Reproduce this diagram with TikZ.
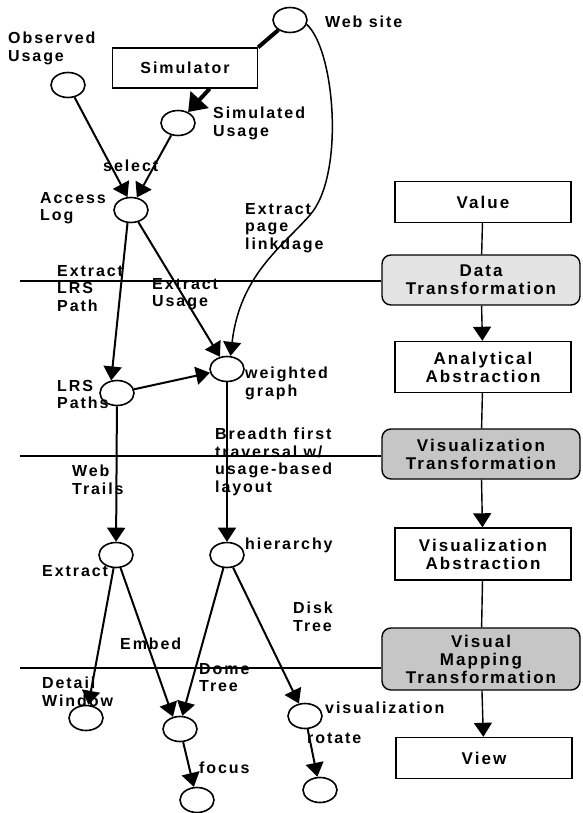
\documentclass[tikz,border=0pt]{standalone}
\usepackage{fontspec}
\setmainfont{Liberation Sans}[LetterSpace=12]
\usetikzlibrary{shapes,arrows.meta,calc}

\begin{document}
\begin{tikzpicture}[%
    x=1pt, y=-1pt,                              % work in page pixels, top-down
    >={Triangle[length=14pt,width=18pt]},       % big filled heads
    font=\fontsize{16}{17.5}\selectfont\bfseries,
    every node/.style={inner sep=0pt}]
% -------------------------------------------------
% Styles
\tikzset{
  state/.style={draw, ellipse, line width=1.6pt, minimum width=34pt, minimum height=25pt},
  note/.style={align=left, anchor=north west},
  stage/.style={draw, line width=1.4pt, minimum width=176pt, minimum height=41pt, align=center,
    font=\fontsize{17}{18}\selectfont\bfseries},
  xform/.style={stage, rounded corners=9pt, minimum width=198pt, minimum height=50pt},
  flow/.style={->, line width=2pt},
  heavy/.style={line width=4pt},
  level/.style={draw, line width=1.8pt}
}
\useasboundingbox (0,0) rectangle (582,813);
% -------------------------------------------------
% Data states on the left
\node [state] (web) at (290,20) {};
\node [draw, line width=1.4pt, minimum width=145pt, minimum height=40pt] (sim) at (185,68) {Simulator};
\node [state] (obs) at (68,85) {};
\node [state] (simu) at (178,123) {};
\node [state] (al) at (131,210) {};
\node [state] (wg) at (227,369) {};
\node [state] (lrs) at (117,393) {};
\node [state] (trails) at (116,555) {};
\node [state] (hier) at (227,555) {};
\node [state] (detail) at (86,718) {};
\node [state] (dome) at (180,729) {};
\node [state] (disk) at (305,716) {};
\node [state] (rot) at (320,790) {};
\node [state] (foc) at (197,800) {};

% -------------------------------------------------
% Reference model column on the right
\node [stage] (value) at (483,202) {Value};
\node [xform, fill=gray!22] (dt) at (481,280) {Data\\Transformation};
\node [stage, minimum height=51pt] (aa) at (483,367) {Analytical\\Abstraction};
\node [xform, fill=gray!45] (vt) at (481,454) {Visualization\\Transformation};
\node [stage, minimum height=52pt] (va) at (483,554) {Visualization\\Abstraction};
\node [xform, fill=gray!45, minimum height=62pt] (vmt) at (481,659) {Visual\\Mapping\\Transformation};
\node [stage] (view) at (484,758) {View};

\draw [line width=1.4pt] (value) -- (dt);
\draw [->, line width=1.4pt] (dt) -- (aa);
\draw [line width=1.4pt] (aa) -- (vt);
\draw [->, line width=1.4pt] (vt) -- (va);
\draw [line width=1.4pt] (va) -- (vmt);
\draw [->, line width=1.4pt] (vmt) -- (view);

% -------------------------------------------------
% Level lines running into the transformations
\coordinate (h1) at (20,281);
\coordinate (h2) at (20,456);
\coordinate (h3) at (20,668);
\draw [level] (h1) -- (h1 -| dt.west);
\draw [level] (h2) -- (h2 -| vt.west);
\draw [level] (h3) -- (h3 -| vmt.west);

% -------------------------------------------------
% Connectors
\draw [heavy] (web) -- (sim.north east);
\draw [heavy, -{Triangle[length=17pt,width=24pt]}] (sim.-40) -- (simu);
\draw [flow] (obs) -- (al.105);
\draw [flow] (simu) -- (al.65);
\draw [flow] (al) -- (wg.120);
\draw [flow] (al.255) -- (lrs.115);
\draw [flow] (lrs) -- (wg);
\draw [->, line width=1.5pt] (web.-15) .. controls (335,50) and (345,175) .. (310,215)
  .. controls (282,247) and (240,275) .. (wg.75);
\draw [flow] (lrs) -- (trails);
\draw [flow] (wg) -- (hier);
\draw [flow] (trails) -- (detail);
\draw [flow] (trails) -- (dome.120);
\draw [flow] (hier) -- (dome.80);
\draw [flow] (hier) -- (disk);
\draw [flow] (disk) -- (rot);
\draw [flow] (dome) -- (foc);

% -------------------------------------------------
% Labels
\node [note] (lobs) at (8,32) {Observed\\Usage};
\node [note] (lweb) at (325,16) {Web site};
\node [note] (lsimu) at (213,107) {Simulated\\Usage};
\node [note] (lsel) at (103,160) {select};
\node [note] (lal) at (40,192) {Access\\Log};
\node [note] (llink) at (245,203) {Extract\\page\\linkdage};
\node [note] (llrsp) at (57,265) {Extract\\LRS\\Path};
\node [note] (lusage) at (152,278) {Extract\\Usage};
\node [note] (llrs) at (57,380) {LRS\\Paths};
\node [note] (lwg) at (245,367) {weighted\\graph};
\node [note] (lbfs) at (215,428) {Breadth first\\traversal w/\\usage-based\\layout};
\node [note] (ltrails) at (72,465) {Web\\Trails};
\node [note] (lhier) at (245,538) {hierarchy};
\node [note] (lext) at (42,565) {Extract};
\node [note] (ldisk) at (293,602) {Disk\\Tree};
\node [note] (lemb) at (120,638) {Embed};
\node [note] (ldome) at (199,663) {Dome\\Tree};
\node [note] (ldet) at (42,677) {Detail\\Window};
\node [note] (lvis) at (325,702) {visualization};
\node [note] (lrot) at (307,733) {rotate};
\node [note] (lfoc) at (199,762) {focus};
\end{tikzpicture}
\end{document}
